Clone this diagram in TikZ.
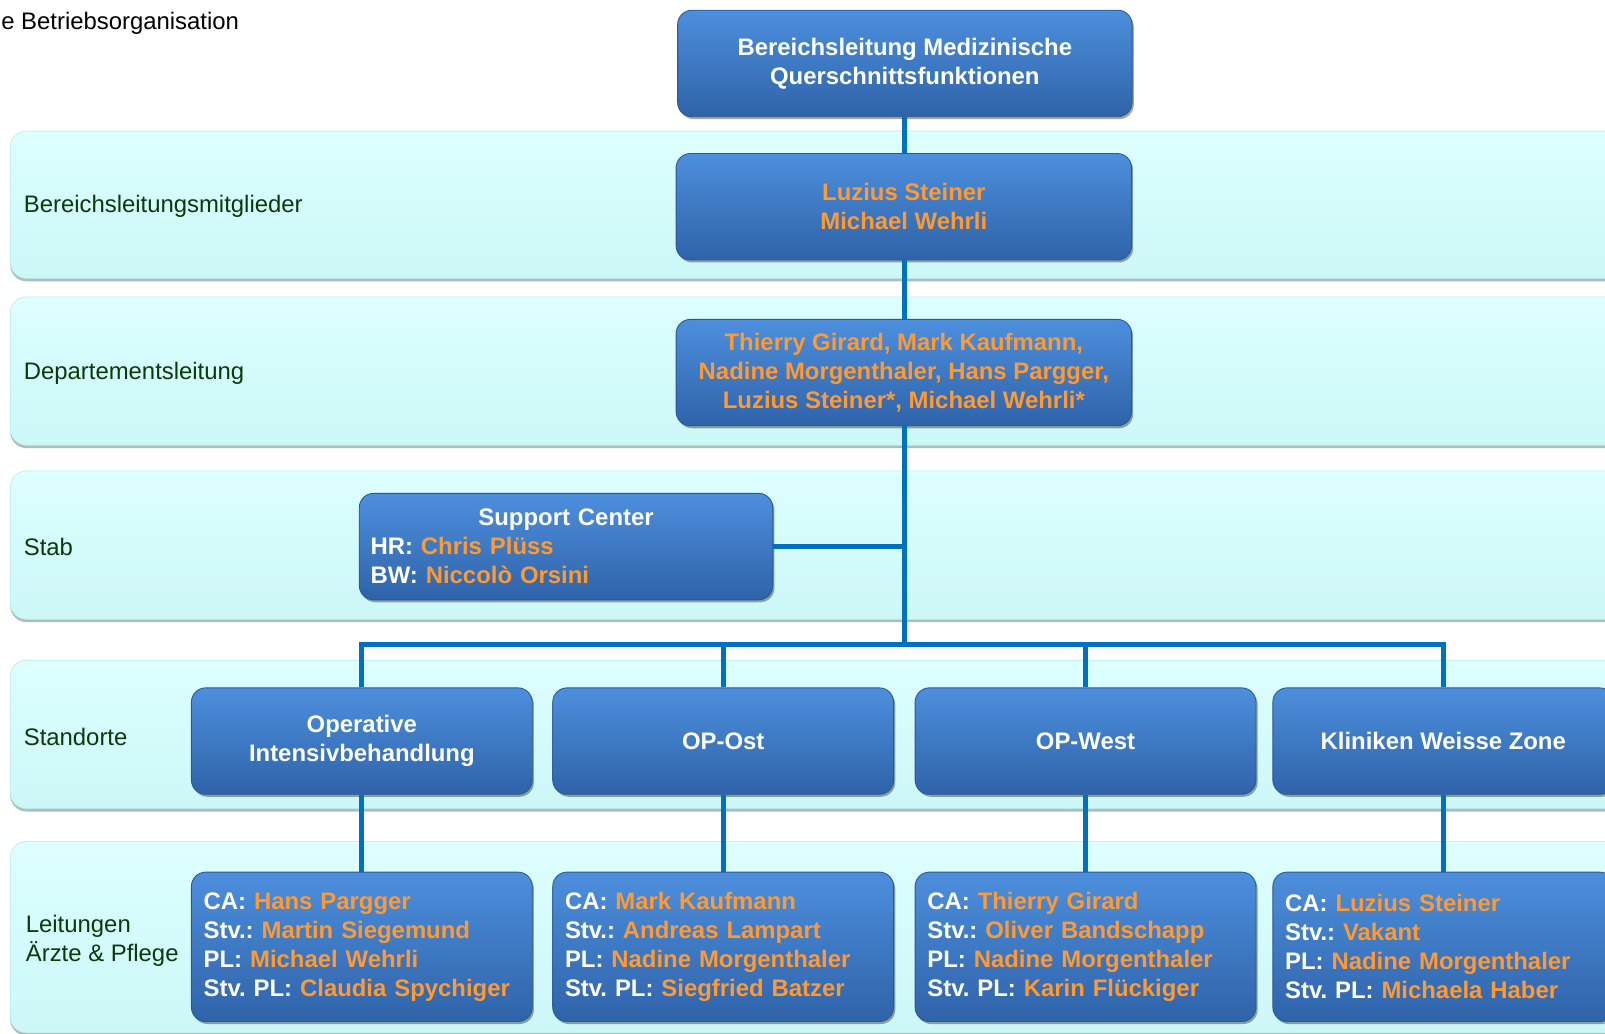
\documentclass[tikz,border=0pt]{standalone}
\usepackage{fontspec}
\setmainfont{Liberation Sans}
\usetikzlibrary{shadows}
\definecolor{bandtop}{HTML}{DDFFFF}
\definecolor{bandbot}{HTML}{CDF7F7}
\definecolor{bandedge}{HTML}{B9EBEB}
\definecolor{bandshade}{HTML}{9DB9B6}
\definecolor{boxtop}{HTML}{4D8FDD}
\definecolor{boxbot}{HTML}{2F63A9}
\definecolor{boxedge}{HTML}{2A5896}
\definecolor{linkblue}{HTML}{0070C0}
\definecolor{nameorange}{HTML}{FF9A33}
\definecolor{labelgreen}{HTML}{0A3A0A}
\newcommand\nm[1]{\textcolor{nameorange}{#1}}
\frenchspacing
\begin{document}
\begin{tikzpicture}[x=0.25mm, y=-0.25mm,
    every node/.style={font=\fontsize{16.6}{20.2}\selectfont},
    band/.style={rounded corners=4mm, top color=bandtop, bottom color=bandbot, draw=bandedge, line width=0.4pt,
        drop shadow={shadow xshift=0mm, shadow yshift=-0.7mm, fill=bandshade, opacity=0.9}},
    lbl/.style={anchor=west, inner sep=0pt, text=labelgreen, align=left},
    box/.style={rounded corners=3.5mm, top color=boxtop, bottom color=boxbot, draw=boxedge, line width=0.6pt,
        text=white, font=\fontsize{16.6}{20.2}\selectfont\bfseries, align=center, minimum height=26mm,
        drop shadow={shadow xshift=0.4mm, shadow yshift=-0.6mm, fill=black, opacity=0.35}},
    unit/.style={box, minimum width=83.25mm},
    lead/.style={box, minimum height=36.5mm, inner xsep=3mm, text width=77.25mm, align=left},
    conn/.style={draw=linkblue, line width=1.25mm}]
    \useasboundingbox (0,0) rectangle (1568,1010);
    \clip (0,0) rectangle (1568,1010);
    % title remains
    \node[anchor=west, inner sep=0pt] (subtitle) at (1,23) {e Betriebsorganisation};
    % bands
    \path[band] (10,128) rectangle (1650,272);
    \path[band] (10,290) rectangle (1650,435);
    \path[band] (10,460) rectangle (1650,605);
    \path[band] (10,645) rectangle (1650,790);
    \path[band] (10,822) rectangle (1650,1009);
    \node[lbl] (lbmembers) at (23,202) {Bereichsleitungsmitglieder};
    \node[lbl] (lbdept) at (23,365) {Departementsleitung};
    \node[lbl] (lbstab) at (23,534) {Stab};
    \node[lbl] (lbsites) at (23,720) {Standorte};
    \node[lbl] (lblead) at (25,919) {Leitungen\\Ärzte \& Pflege};
    % top
    \node[box, minimum width=111mm] (head) at (884,62) {Bereichsleitung Medizinische\\Querschnittsfunktionen};
    \node[box, minimum width=111.25mm] (members) at (883,202) {\nm{Luzius Steiner}\\\nm{Michael Wehrli}};
    \node[box, minimum width=111.25mm] (dept) at (883,364) {\nm{Thierry Girard, Mark Kaufmann,}\\\nm{Nadine Morgenthaler, Hans Pargger,}\\\nm{Luzius Steiner*, Michael Wehrli*}};
    \node[box, inner xsep=2.75mm, text width=95.5mm, align=left] (support) at (553,534)
        {\makebox[\linewidth]{Support Center}\\HR: \nm{Chris Plüss}\\BW: \nm{Niccolò Orsini}};
    % sites
    \node[unit] (opint) at (353.5,724) {Operative\\Intensivbehandlung};
    \node[unit] (opost) at (706.5,724) {OP-Ost};
    \node[unit] (opwest) at (1060.5,724) {OP-West};
    \node[unit] (kwz) at (1410,724) {Kliniken Weisse Zone};
    % leads
    \node[lead] (leadint) at (353.5,925) {CA: \nm{Hans Pargger}\\Stv.: \nm{Martin Siegemund}\\PL: \nm{Michael Wehrli}\\Stv. PL: \nm{Claudia Spychiger}};
    \node[lead] (leadost) at (706.5,925) {CA: \nm{Mark Kaufmann}\\Stv.: \nm{Andreas Lampart}\\PL: \nm{Nadine Morgenthaler}\\Stv. PL: \nm{Siegfried Batzer}};
    \node[lead] (leadwest) at (1060.5,925) {CA: \nm{Thierry Girard}\\Stv.: \nm{Oliver Bandschapp}\\PL: \nm{Nadine Morgenthaler}\\Stv. PL: \nm{Karin Flückiger}};
    \node[lead] (leadkwz) at (1410,925) {CA: \nm{Luzius Steiner}\\Stv.: \nm{Vakant}\\PL: \nm{Nadine Morgenthaler}\\Stv. PL: \nm{Michaela Haber}};
    % links
    \coordinate (bus) at (884,630);
    \draw[conn] (head.south) -- (head.south |- members.north);
    \draw[conn] (members.south -| head.south) -- (dept.north -| head.south);
    \draw[conn] (dept.south -| head.south) -- (head.south |- bus);
    \draw[conn] (support.east) -- (support.east -| head.south);
    \draw[conn] (opint.north) |- (kwz.north |- bus) -- (kwz.north);
    \foreach \s in {opost, opwest}
        \draw[conn] (\s.north) -- (\s.north |- bus);
    \foreach \s/\l in {opint/leadint, opost/leadost, opwest/leadwest, kwz/leadkwz}
        \draw[conn] (\s.south) -- (\l.north);
\end{tikzpicture}
\end{document}
